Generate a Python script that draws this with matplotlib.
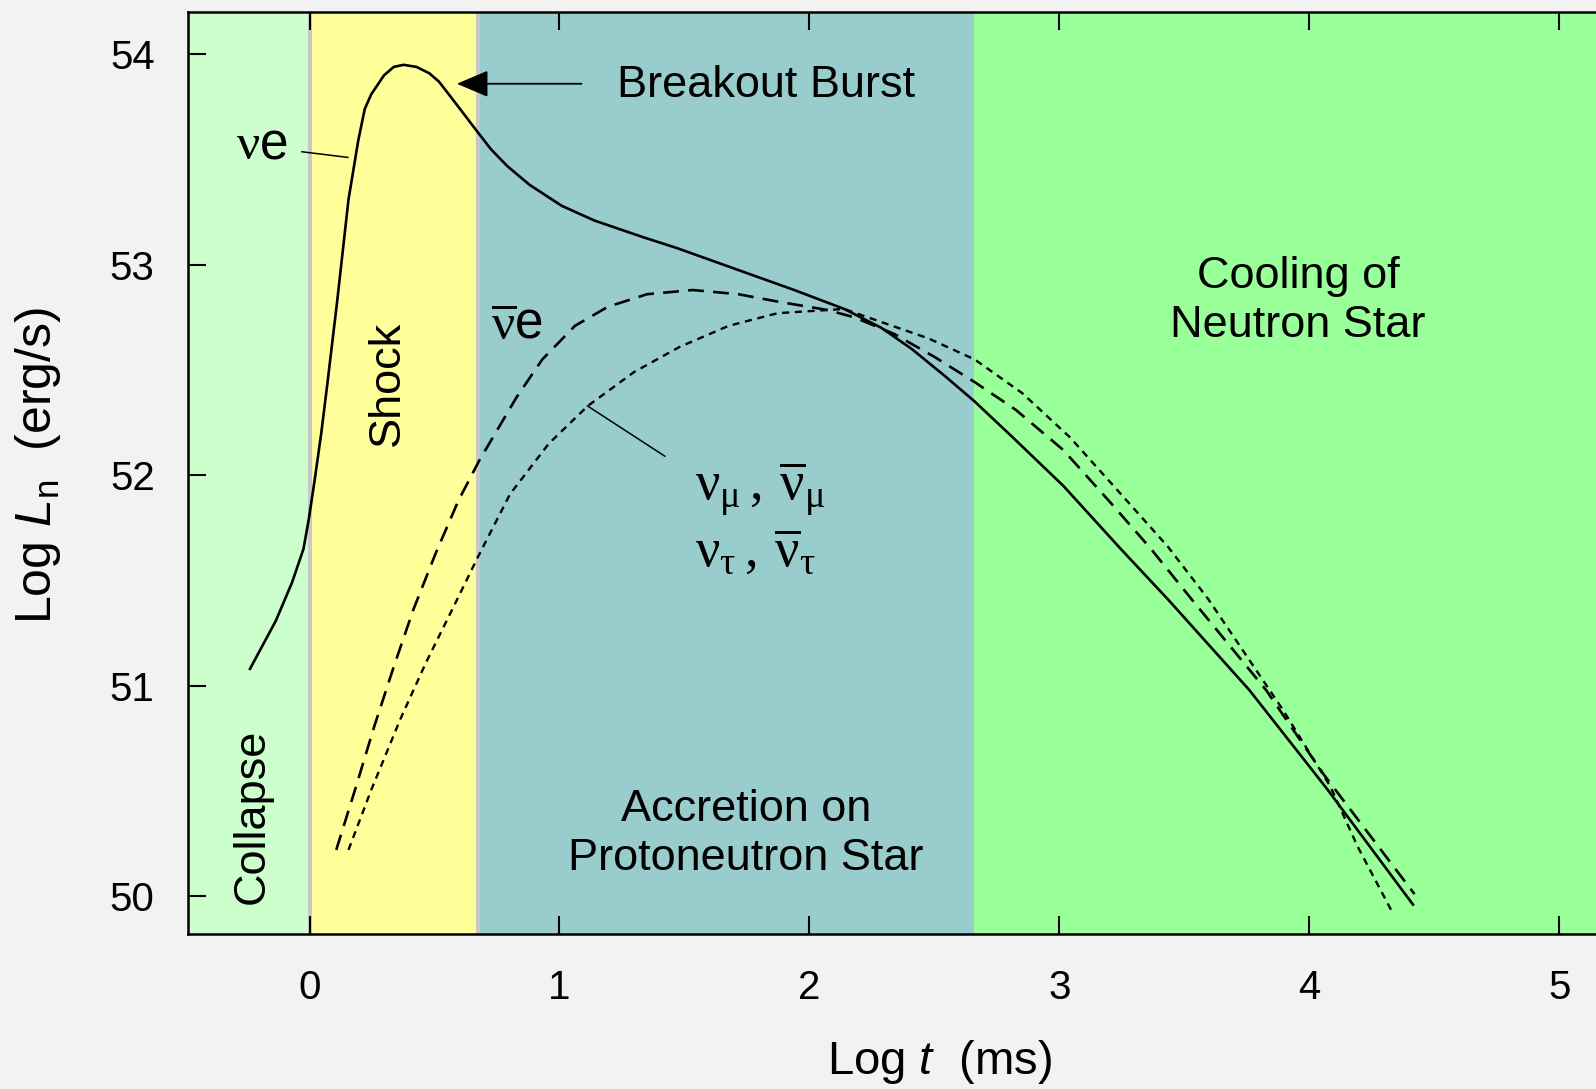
import matplotlib.pyplot as plt

plt.rcParams['font.family'] = ['Liberation Sans', 'DejaVu Sans']
plt.rcParams['mathtext.rm'] = 'Liberation Serif'
plt.rcParams['mathtext.it'] = 'Liberation Sans:italic'
plt.rcParams['mathtext.sf'] = 'Liberation Sans'

# phases of the supernova, edges in log t (ms)
phase_edges = [-0.6, 0.0, 0.673, 2.66, 5.4]
phase_colors = ["#ccffcc", "#ffff99", "#99cccc", "#99ff99"]

# electron neutrinos (solid)
nue_t = [-0.238, -0.134, -0.070, -0.024, -0.003, 0.021, 0.047, 0.072, 0.092, 0.111,
         0.156, 0.195, 0.221, 0.247, 0.298, 0.337, 0.376, 0.428, 0.479, 0.518,
         0.583, 0.660, 0.725, 0.790, 0.880, 1.009, 1.140, 1.337, 1.468, 1.939,
         2.139, 2.288, 2.409, 2.543, 2.661, 2.813, 3.015, 3.245, 3.434, 3.759,
         4.070, 4.414]
nue_L = [51.08, 51.31, 51.49, 51.65, 51.79, 51.98, 52.20, 52.44, 52.64, 52.83,
         53.31, 53.59, 53.74, 53.81, 53.90, 53.94, 53.95, 53.94, 53.91, 53.87,
         53.77, 53.65, 53.55, 53.47, 53.38, 53.28, 53.21, 53.13, 53.08, 52.88,
         52.79, 52.70, 52.60, 52.47, 52.35, 52.18, 51.95, 51.65, 51.41, 50.98,
         50.51, 49.96]

# electron antineutrinos (dashed)
nuebar_t = [0.107, 0.182, 0.260, 0.337, 0.415, 0.505, 0.596, 0.679, 0.751, 0.828,
            0.931, 1.062, 1.193, 1.350, 1.533, 1.716, 1.873, 2.072, 2.180, 2.341,
            2.503, 2.664, 2.826, 3.015, 3.204, 3.366, 3.529, 3.826, 4.056, 4.420]
nuebar_L = [50.22, 50.505, 50.81, 51.09, 51.36, 51.63, 51.88, 52.07, 52.215, 52.37,
            52.55, 52.71, 52.80, 52.86, 52.88, 52.86, 52.825, 52.785, 52.75, 52.67,
            52.56, 52.44, 52.31, 52.12, 51.87, 51.65, 51.41, 50.98, 50.58, 50.01]

# mu / tau neutrinos (dotted)
numu_t = [0.156, 0.247, 0.363, 0.466, 0.570, 0.673, 0.802, 0.957, 1.114, 1.298,
          1.481, 1.677, 1.873, 2.139, 2.234, 2.476, 2.661, 2.851, 3.042, 3.231,
          3.434, 3.596, 3.894, 4.084, 4.193, 4.333]
numu_L = [50.22, 50.505, 50.84, 51.11, 51.36, 51.61, 51.91, 52.15, 52.33, 52.49,
          52.61, 52.71, 52.77, 52.79, 52.75, 52.65, 52.55, 52.39, 52.18, 51.93,
          51.66, 51.41, 50.885, 50.52, 50.235, 49.92]

xticks = [0, 1, 2, 3, 4, 5]
yticks = [50, 51, 52, 53, 54]

fig = plt.figure(figsize=(15.96, 10.89), dpi=100, facecolor="#f2f2f2")
ax = fig.add_axes([0.1178, 0.1419, 0.8947, 0.8469])
ax.set_xlim(-0.486, 5.226)
ax.set_ylim(49.818, 54.2)

# coloured phases
for i in range(len(phase_colors)):
    ax.axvspan(phase_edges[i], phase_edges[i + 1], color=phase_colors[i], lw=0, zorder=0)
for e in phase_edges[1:3]:
    ax.axvline(e, color="#c8c8c8", lw=3, zorder=0.5)

ax.plot(nue_t, nue_L, color="black", lw=1.9, solid_joinstyle="round")
ax.plot(nuebar_t, nuebar_L, color="black", lw=1.9, linestyle=(0, (6, 3.5)))
ax.plot(numu_t, numu_L, color="black", lw=1.7, linestyle=(0, (3, 2.4)))

# phase names
ax.text(-0.228, 50.38, "Collapse", rotation=90, ha="center", va="center", fontsize=32.5)
ax.text(0.31, 52.434, "Shock", rotation=90, ha="center", va="center", fontsize=32.5)
ax.text(1.746, 50.294, "Accretion on\nProtoneutron Star", ha="center", va="center",
        fontsize=32.5, linespacing=1.25)
ax.text(3.954, 52.83, "Cooling of\nNeutron Star", ha="center", va="center",
        fontsize=32.5, linespacing=1.25)

# breakout burst arrow
ax.annotate("", xy=(0.589, 53.86), xytext=(1.088, 53.86),
            arrowprops=dict(arrowstyle="-|>,head_length=0.9,head_width=0.38",
                            color="black", lw=1.3, mutation_scale=22, shrinkA=0, shrinkB=0))
ax.text(1.232, 53.85, "Breakout Burst", ha="left", va="center", fontsize=32.5)

# neutrino labels
ax.text(-0.192, 53.57, r"$\mathrm{\nu}\mathsf{e}$", ha="center", va="center", fontsize=37,
        math_fontfamily="custom")
ax.annotate("", xy=(0.154, 53.51), xytext=(-0.031, 53.537),
            arrowprops=dict(arrowstyle="-", color="black", lw=1.1, shrinkA=0, shrinkB=0))
ax.text(0.828, 52.713, r"$\overline{\mathrm{\nu}}\mathsf{e}$", ha="center", va="center",
        fontsize=37, math_fontfamily="custom")
ax.text(1.542, 51.883, r"$\mathrm{\nu}_\mathrm{\mu}\,,\,\overline{\mathrm{\nu}}_\mathrm{\mu}$",
        ha="left", va="baseline", fontsize=39, math_fontfamily="custom")
ax.text(1.542, 51.565, r"$\mathrm{\nu}_\mathrm{\tau}\,,\,\overline{\mathrm{\nu}}_\mathrm{\tau}$",
        ha="left", va="baseline", fontsize=39, math_fontfamily="custom")
ax.annotate("", xy=(1.111, 52.33), xytext=(1.422, 52.09),
            arrowprops=dict(arrowstyle="-", color="black", lw=1.1, shrinkA=0, shrinkB=0))

ax.set_xticks(xticks)
ax.set_yticks(yticks)
ax.tick_params(direction="in", length=13, width=1.5, top=True, right=False,
               labelsize=29)
ax.tick_params(axis="x", pad=25)
ax.tick_params(axis="y", pad=24)
for s in ["left", "bottom", "top"]:
    ax.spines[s].set_linewidth(1.8)
ax.spines["right"].set_visible(False)

ax.set_xlabel(r"Log $t$  (ms)", fontsize=34, math_fontfamily="custom")
ax.xaxis.set_label_coords(0.526, -0.112)
ax.set_ylabel(r"Log $L_{\mathsf{n}}$  (erg/s)", fontsize=36, math_fontfamily="custom")
ax.yaxis.set_label_coords(-0.0875, 0.509)

fig.savefig("out.png", dpi=100, facecolor=fig.get_facecolor())
